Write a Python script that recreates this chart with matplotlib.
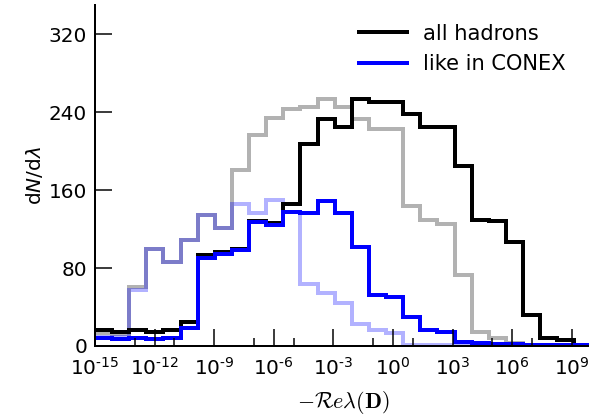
import numpy as np
import matplotlib
matplotlib.use("Agg")
import matplotlib.pyplot as plt
from matplotlib.ticker import FixedLocator, FuncFormatter, NullFormatter

# 29 log-spaced bins from 1e-15 to 1e10
bin_edges = np.logspace(-15, 10, 30)

# all hadrons (full) / like in CONEX (full) / faded variants
all_hadrons = [16, 14.7, 16, 14.7, 16, 25, 93, 96, 100, 128, 126, 146, 207, 233,
               224.5, 253.5, 250, 250, 238, 225, 225, 185, 129, 128, 107, 32, 8, 6, 1]
like_conex = [7.8, 6.8, 7.8, 6.8, 8, 18, 90, 94, 98, 127, 124, 137.5, 136, 149,
              136, 102, 52, 50, 30, 16, 14.7, 4.4, 3, 2.5, 2, 1.5, 1, 1, 1]
all_hadrons_alt = [13, 12, 60.7, 100, 86.3, 109, 134, 121, 181, 216, 234, 243, 245,
                   253.5, 245.6, 233, 222.8, 222.8, 144, 129, 125.6, 72.7, 14.7, 7.9,
                   2.7, 1, 0.5, 0.5, 0.5]
like_conex_alt = [9, 9, 57, 100, 86.3, 109, 134, 121, 146, 136, 150, 137.5, 64, 54,
                  43.7, 23, 16, 13, 1, 0.5, 0.5, 0.5, 0.5, 0.5, 0.5, 0.5, 0.5, 0.5, 0.5]

major_ticks = [1e-15, 1e-12, 1e-9, 1e-6, 1e-3, 1e0, 1e3, 1e6, 1e9]
minor_ticks = [1e-13, 1e-11, 1e-7, 1e-5, 1e-1, 1e1, 1e5, 1e7]
y_ticks = [0, 80, 160, 240, 320]


def pow10_label(x, pos):
    # plain hyphen in the exponent, like the original
    e = int(round(np.log10(x)))
    return r"$\mathdefault{10^{\text{%d}}}$" % e


fig = plt.figure(figsize=(589 / 72, 416 / 72), dpi=72)
ax = fig.add_axes([0.1613, 0.1683, 0.843, 0.82])

lw = 4
ax.stairs(all_hadrons_alt, bin_edges, color="black", alpha=0.3, lw=lw, baseline=None)
ax.stairs(like_conex_alt, bin_edges, color="blue", alpha=0.3, lw=lw, baseline=None)
ax.stairs(all_hadrons, bin_edges, color="black", lw=lw, baseline=None, label="all hadrons")
ax.stairs(like_conex, bin_edges, color="blue", lw=lw, baseline=None, label="like in CONEX")

ax.set_xscale("log")
ax.set_xlim(1e-15, 1e10)
ax.set_ylim(0, 350)

ax.xaxis.set_major_locator(FixedLocator(major_ticks))
ax.xaxis.set_major_formatter(FuncFormatter(pow10_label))
ax.xaxis.set_minor_locator(FixedLocator(minor_ticks))
ax.xaxis.set_minor_formatter(NullFormatter())
ax.set_yticks(y_ticks)

ax.spines["top"].set_visible(False)
ax.spines["right"].set_visible(False)
for s in ("left", "bottom"):
    ax.spines[s].set_linewidth(2)

ax.tick_params(which="major", direction="in", length=17, width=1.5, labelsize=20, pad=8)
ax.tick_params(axis="x", which="major", pad=11)
ax.tick_params(which="minor", direction="in", length=8, width=1.5)
ax.tick_params(top=False, right=False)

ax.set_xlabel(r"$-\mathcal{R}e\lambda(\mathbf{D})$", fontsize=22, math_fontfamily="cm",
              labelpad=10)
ax.set_ylabel(r"d$N$/d$\lambda$", fontsize=20)

ax.legend(loc="upper right", frameon=False, fontsize=21, handlelength=2.3,
          handletextpad=0.75, bbox_to_anchor=(0.985, 1.0))

fig.savefig("out.png", dpi=72)
